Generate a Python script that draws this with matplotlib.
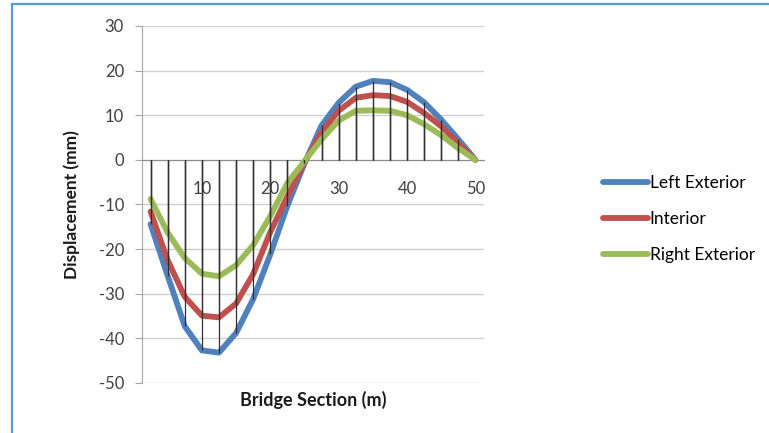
#!/usr/bin/env python3
"""
Bridge deflection plot
各梁沿桥跨的挠度曲线（左外梁 / 内梁 / 右外梁）
"""

import matplotlib
matplotlib.use('Agg')
import matplotlib.pyplot as plt
from matplotlib.patches import Rectangle

plt.rcParams['font.family'] = ['Lato', 'DejaVu Sans']
plt.rcParams['axes.unicode_minus'] = False

# 桥跨位置 (m)
sections = [2.5, 5, 7.5, 10, 12.5, 15, 17.5, 20, 22.5, 25,
            27.5, 30, 32.5, 35, 37.5, 40, 42.5, 45, 47.5, 50]

# 挠度 (mm)
left_exterior = [-14.4, -26.0, -37.3, -42.7, -43.2, -38.8, -31.2, -21.2, -10.3, -0.8,
                 7.7, 12.8, 16.4, 17.7, 17.4, 15.7, 12.9, 9.0, 4.6, 0.0]
interior = [-11.6, -22.5, -30.7, -34.9, -35.3, -32.2, -25.6, -16.2, -8.2, -0.6,
            6.2, 11.0, 13.9, 14.5, 14.3, 13.0, 10.5, 7.5, 3.7, 0.0]
right_exterior = [-8.8, -16.3, -22.0, -25.5, -26.1, -23.6, -19.1, -12.6, -5.2, -0.3,
                  4.6, 8.8, 11.0, 11.1, 11.0, 10.0, 8.0, 5.5, 2.6, 0.0]

series_names = ['Left Exterior', 'Interior', 'Right Exterior']
colors = ['#4F81BD', '#C0504D', '#9BBB59']

y_ticks = [-50, -40, -30, -20, -10, 0, 10, 20, 30]
x_ticks = [10, 20, 30, 40, 50]


def create_chart():
    fig = plt.figure(figsize=(7.69, 4.33), dpi=100)
    ax = fig.add_axes([0.1847, 0.1155, 0.4447, 0.8245])

    all_series = [left_exterior, interior, right_exterior]

    # 曲线
    for vals, name, c in zip(all_series, series_names, colors):
        ax.plot(sections, vals, color=c, lw=4.2, label=name,
                solid_joinstyle='round', solid_capstyle='round', zorder=3)

    # 垂线 (drop lines)
    for vals in all_series:
        ax.vlines(sections, 0, vals, color='#303030', lw=0.9, zorder=4)

    ax.set_xlim(1.25, 51.25)
    ax.set_ylim(-50, 30)
    ax.set_yticks(y_ticks)
    ax.set_xticks(x_ticks)
    ax.set_xticklabels([str(t) for t in x_ticks])

    ax.yaxis.grid(True, color='#D0D0D0', lw=1.0)
    ax.set_axisbelow(True)

    for side in ['top', 'right']:
        ax.spines[side].set_visible(False)
    ax.spines['left'].set_color('#A6A6A6')
    ax.spines['bottom'].set_position(('data', 0))
    ax.spines['bottom'].set_color('#8C8C8C')

    ax.tick_params(axis='y', direction='out', length=5, color='#A6A6A6',
                   labelsize=12, labelcolor='#404040', pad=8)
    ax.tick_params(axis='x', length=0, labelsize=12, labelcolor='#404040', pad=15)

    ax.set_ylabel('Displacement (mm)', fontsize=12.5, fontweight='bold', color='#1a1a1a')
    ax.yaxis.set_label_coords(-0.181, 0.5)
    ax.set_xlabel('Bridge Section (m)', fontsize=13, fontweight='bold',
                  color='#1a1a1a', va='center')
    ax.xaxis.set_label_coords(0.5, -0.048)

    fig.legend(loc='center left', bbox_to_anchor=(0.784, 0.494), frameon=False,
               fontsize=12.5, handlelength=2.6, handletextpad=0.1,
               labelspacing=1.15, borderpad=0, borderaxespad=0)

    # 图表区边框
    fig.add_artist(Rectangle((12 / 769, -0.1), 1.2, 1.1 - 4 / 433,
                             transform=fig.transFigure, fill=False,
                             edgecolor='#5B9BD5', lw=1.6))
    return fig


def main():
    fig = create_chart()
    fig.savefig('out.png', dpi=100)


if __name__ == "__main__":
    main()
